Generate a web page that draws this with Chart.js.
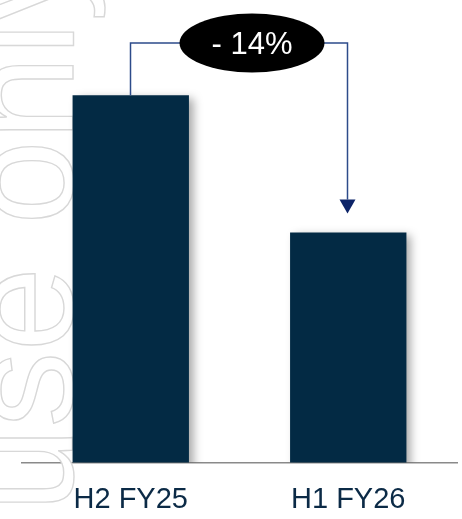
<!DOCTYPE html>
<html>
<head>
<meta charset="utf-8">
<script src="https://cdn.jsdelivr.net/npm/chart.js@4/dist/chart.umd.min.js"></script>
<style>
  html, body { margin: 0; padding: 0; background: #ffffff; }
  #wrap { width: 462px; height: 519px; }
</style>
</head>
<body>
<div id="wrap"><canvas id="halfChart" width="462" height="519"></canvas></div>
<script>
// half-year comparison
const categories = ["H2 FY25", "H1 FY26"];
const values = [100, 86];
const axisMin = 62.5;
const axisMax = 108;

const barColor = "#032a44";
const fontFamily = '"Liberation Sans", Arial, sans-serif';

// faint "use only" stamp down the left edge
const watermark = {
    id: "watermark",
    beforeDatasetsDraw(chart) {
        const ctx = chart.ctx;
        ctx.save();
        ctx.translate(73, 512);
        ctx.rotate(-Math.PI / 2);
        ctx.font = "152px " + fontFamily;
        ctx.textBaseline = "alphabetic";
        ctx.textAlign = "left";
        ctx.lineWidth = 1.4;
        ctx.strokeStyle = "#d8d8d8";
        ctx.fillStyle = "#ffffff";
        ctx.fillText("use only", 0, 0);
        ctx.strokeText("use only", 0, 0);
        ctx.restore();
    },
};

// soft drop shadow behind the bars
const barShadow = {
    id: "barShadow",
    beforeDatasetDraw(chart) {
        const ctx = chart.ctx;
        ctx.save();
        ctx.shadowColor = "rgba(0, 0, 0, 0.35)";
        ctx.shadowBlur = 9;
        ctx.shadowOffsetX = 5;
        ctx.shadowOffsetY = 3;
    },
    afterDatasetDraw(chart) {
        chart.ctx.restore();
    },
};

// bracket + arrow with the change badge
const changeBadge = {
    id: "changeBadge",
    afterDatasetsDraw(chart) {
        const ctx = chart.ctx;
        const bars = chart.getDatasetMeta(0).data;
        const x0 = Math.round(bars[0].x) - 0.5;
        const x1 = Math.round(bars[1].x) - 0.5;
        const top0 = bars[0].y;
        const tipY = bars[1].y - 19;
        const lineY = 43;
        const headH = 14;

        ctx.save();
        ctx.strokeStyle = "#2d4b8a";
        ctx.lineWidth = 1.5;
        ctx.beginPath();
        ctx.moveTo(x0, top0);
        ctx.lineTo(x0, lineY);
        ctx.lineTo(x1, lineY);
        ctx.lineTo(x1, tipY - headH);
        ctx.stroke();

        ctx.fillStyle = "#0d2468";
        ctx.beginPath();
        ctx.moveTo(x1 - 8, tipY - headH);
        ctx.lineTo(x1 + 8, tipY - headH);
        ctx.lineTo(x1, tipY);
        ctx.closePath();
        ctx.fill();

        const cx = (x0 + x1) / 2 + 13;
        ctx.fillStyle = "#000000";
        ctx.beginPath();
        ctx.ellipse(cx, lineY, 72.5, 29.5, 0, 0, Math.PI * 2);
        ctx.fill();

        const pct = Math.round((values[1] - values[0]) / values[0] * 100);
        const label = (pct < 0 ? "- " : "+ ") + Math.abs(pct) + "%";
        ctx.fillStyle = "#ffffff";
        ctx.font = "31px " + fontFamily;
        ctx.textAlign = "center";
        ctx.textBaseline = "middle";
        ctx.fillText(label, cx, lineY + 2);
        ctx.restore();
    },
};

new Chart(document.getElementById("halfChart"), {
    type: "bar",
    data: {
        labels: categories,
        datasets: [{
            data: values,
            backgroundColor: barColor,
            borderWidth: 0,
            categoryPercentage: 1,
            barPercentage: 0.535,
        }],
    },
    options: {
        responsive: false,
        animation: false,
        layout: { padding: { left: 22, right: 5, top: 17, bottom: 0 } },
        plugins: {
            legend: { display: false },
            tooltip: { enabled: false },
        },
        scales: {
            x: {
                grid: { display: false, drawTicks: false },
                border: { display: true, color: "#8a8a8a", width: 1.5 },
                ticks: {
                    color: "#0b2a46",
                    padding: 20,
                    font: { family: fontFamily, size: 29 },
                },
                afterFit(scale) {
                    scale.height = 56.5;
                },
            },
            y: {
                display: false,
                min: axisMin,
                max: axisMax,
            },
        },
    },
    plugins: [watermark, barShadow, changeBadge],
});
</script>
</body>
</html>
